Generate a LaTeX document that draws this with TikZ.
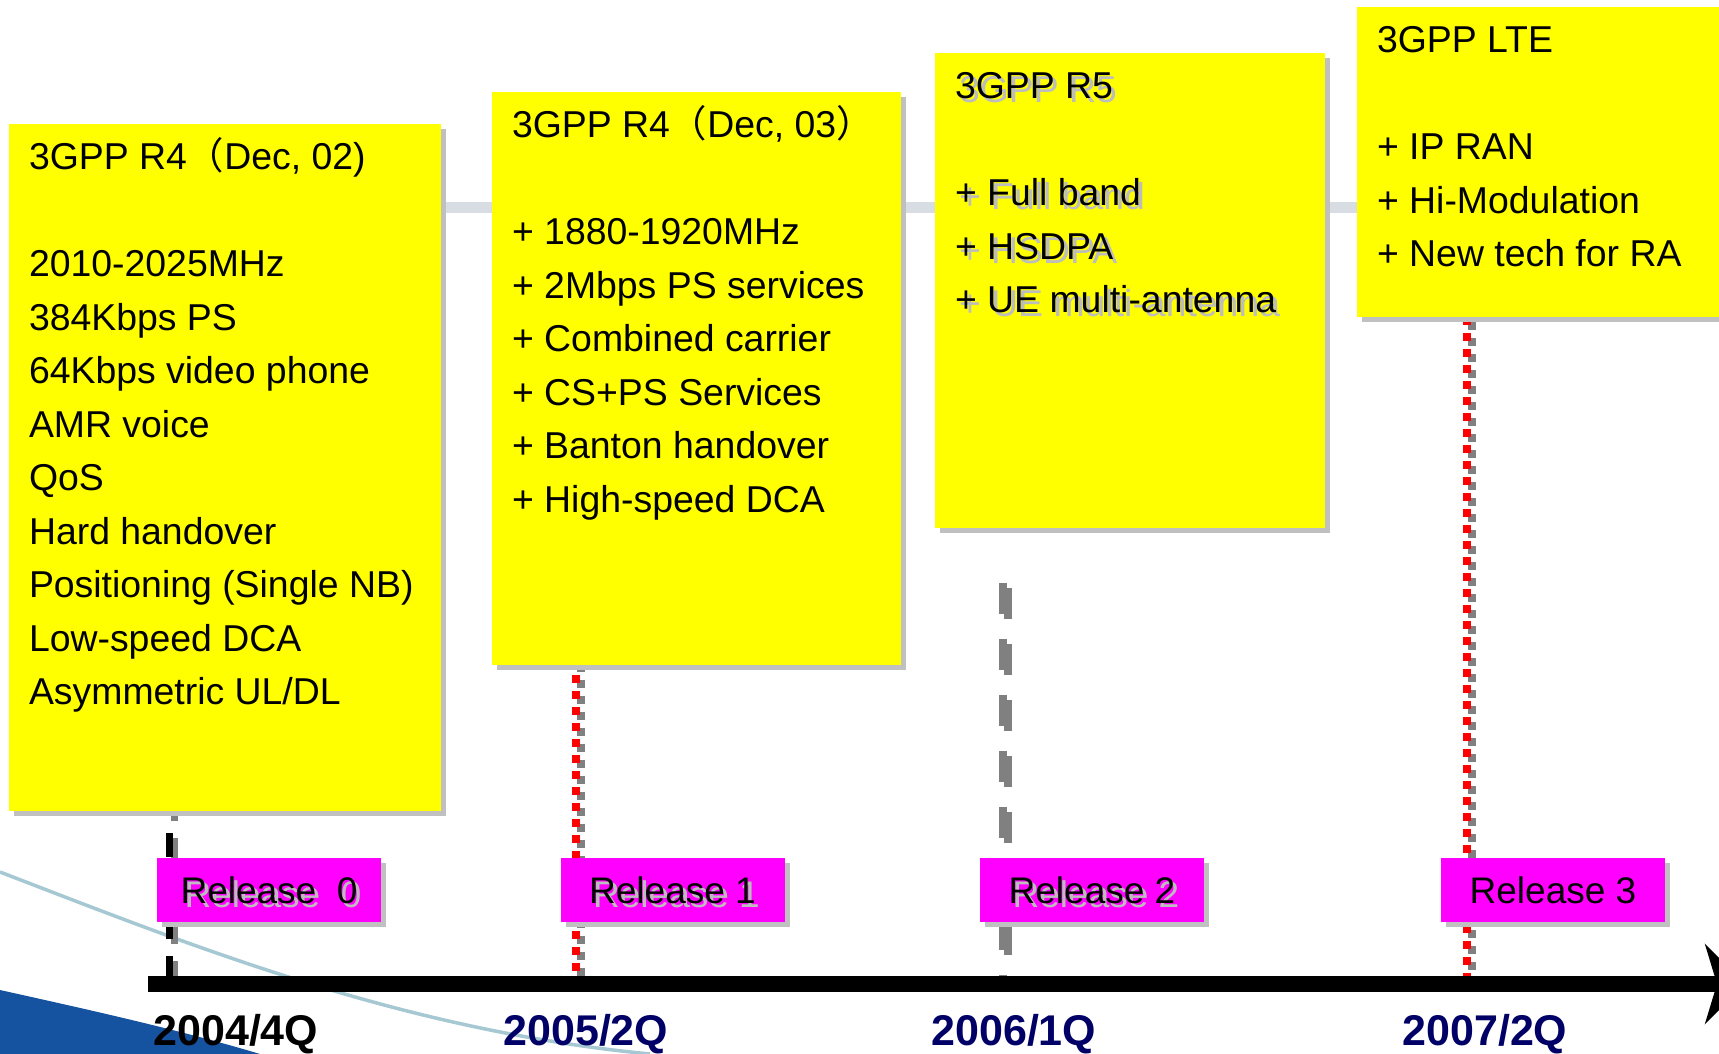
\documentclass[tikz,border=0pt]{standalone}
\usepackage{fontspec}
\setmainfont{Liberation Sans}
\newfontfamily\cjk{Noto Sans CJK SC}
\usetikzlibrary{shadows,backgrounds,arrows.meta}
\definecolor{notegold}{HTML}{FFFF00}
\definecolor{relpink}{HTML}{FF00FF}
\definecolor{boxshade}{HTML}{C0C0C0}
\definecolor{txtshade}{HTML}{BDBDBD}
\definecolor{dashgrey}{HTML}{808080}
\definecolor{datenavy}{HTML}{000066}
\definecolor{bandgrey}{HTML}{D7DDE3}
\definecolor{swooshblue}{HTML}{1553A1}
\definecolor{arcblue}{HTML}{A5C8D3}
\newcommand{\shtext}[1]{\makebox[0pt][l]{\hspace{2pt}\raisebox{-2pt}[0pt][0pt]{\textcolor{txtshade}{#1}}}#1}
\begin{document}
\begin{tikzpicture}[x=0.5pt, y=-0.5pt,
    notebox/.style={rectangle, fill=notegold, inner sep=0pt,
        drop shadow={shadow xshift=2.5pt, shadow yshift=-2.5pt, fill=boxshade, opacity=1}},
    notetext/.style={anchor=base west, inner sep=0pt, font=\fontsize{18.7pt}{26.75pt}\selectfont},
    relbox/.style={rectangle, fill=relpink, minimum width=112pt, minimum height=32pt, inner sep=0pt,
        font=\fontsize{18.5pt}{22pt}\selectfont,
        drop shadow={shadow xshift=2.5pt, shadow yshift=-2.5pt, fill=boxshade, opacity=1}},
    datelabel/.style={anchor=base west, inner sep=0pt, font=\bfseries\fontsize{21.5pt}{24pt}\selectfont},
    band/.style={draw=bandgrey, line width=5.5pt},
    rel0dash/.style={line width=3.5pt, dash pattern=on 12pt off 8.5pt},
    sqdots/.style={line width=4pt, dash pattern=on 4pt off 4pt},
    greydash/.style={draw=dashgrey, line width=4pt, dash pattern=on 15.5pt off 12.5pt},
    timeline/.style={line width=7.75pt, -{Stealth[length=20pt, width=40pt, inset=6pt]}}]
    \useasboundingbox (0,0) rectangle (1719,1054);
    \clip (0,0) rectangle (1719,1054);

    % Release notes
    \node[notebox, minimum width=216pt, minimum height=343.5pt] (r4a) at (225,467.5) {};
    \node[notebox, minimum width=204.5pt, minimum height=286.5pt] (r4b) at (696.5,378.5) {};
    \node[notebox, minimum width=195pt, minimum height=237.5pt] (r5) at (1130,290.5) {};
    \node[notebox, minimum width=185pt, minimum height=155pt] (lte) at (1542,162) {};

    \node[notetext] (r4atext) at ([shift={(20,46)}]r4a.north west) {\parbox[t]{260pt}{\raggedright
        3GPP R4{\cjk （}Dec, 02)\\[26.75pt]
        2010-2025MHz\\
        384Kbps PS\\
        64Kbps video phone\\
        AMR voice\\
        QoS\\
        Hard handover\\
        Positioning (Single NB)\\
        Low-speed DCA\\
        Asymmetric UL/DL}};
    \node[notetext] (r4btext) at ([shift={(20,46)}]r4b.north west) {\parbox[t]{260pt}{\raggedright
        3GPP R4{\cjk （}Dec, 03{\cjk ）}\\[26.75pt]
        + 1880-1920MHz\\
        + 2Mbps PS services\\
        + Combined carrier\\
        + CS+PS Services\\
        + Banton handover\\
        + High-speed DCA}};
    \node[notetext] (r5text) at ([shift={(20,46)}]r5.north west) {\parbox[t]{260pt}{\raggedright
        \shtext{3GPP R5}\\[26.75pt]
        \shtext{+ Full band}\\
        \shtext{+ HSDPA}\\
        \shtext{+ UE multi-antenna}}};
    \node[notetext] (ltetext) at ([shift={(20,46)}]lte.north west) {\parbox[t]{260pt}{\raggedright
        3GPP LTE\\[26.75pt]
        + IP RAN\\
        + Hi-Modulation\\
        + New tech for RA}};

    % Releases
    \node[relbox] (rel0) at (269,890) {\shtext{Release~~0}};
    \node[relbox] (rel1) at (672.5,890) {\shtext{Release 1}};
    \node[relbox] (rel2) at (1092,890) {\shtext{Release 2}};
    \node[relbox] (rel3) at (1553,890) {Release 3};

    % Time axis
    \coordinate (tstart) at (148,984);
    \coordinate (tend) at (1745,984);
    \coordinate (tick0) at (169,984);
    \coordinate (tick1) at (576,984);
    \coordinate (tick2) at (1003,984);
    \coordinate (tick3) at (1467,984);
    \coordinate (top0) at (tick0 |- r4a.south);
    \coordinate (top1) at (tick1 |- r4b.south);
    \coordinate (top2) at (1003,583);
    \coordinate (top3) at (tick3 |- lte.south);
    \coordinate (bandy) at (0,207.5);

    \begin{scope}[on background layer]
        % Slide background
        \fill[swooshblue] (0,990) .. controls (90,1010) and (180,1030) .. (260,1054) -- (0,1054) -- cycle;
        \draw[arcblue, line width=1.75pt] (0,872) .. controls (190,945) and (400,1030) .. (650,1054);
        \draw[band] (r4a.east |- bandy) -- (lte.west |- bandy);

        % Release marks
        \draw[rel0dash, dashgrey, dash phase=9.5pt] ([shift={(5,5)}]top0) -- ([shift={(5,5)}]tick0);
        \draw[rel0dash, black, dash phase=9.5pt] (top0) -- (tick0);
        \draw[sqdots, dashgrey, dash phase=3pt] ([shift={(5,5)}]top1) -- ([shift={(5,5)}]tick1);
        \draw[sqdots, red, dash phase=3pt] (top1) -- (tick1);
        \draw[greydash] ([shift={(5,5)}]top2) -- ([shift={(5,5)}]tick2);
        \draw[greydash] (top2) -- (tick2);
        \draw[sqdots, dashgrey] ([shift={(5,5)}]top3) -- ([shift={(5,5)}]tick3);
        \draw[sqdots, red] (top3) -- (tick3);
    \end{scope}

    \draw[timeline] (tstart) -- (tend);

    % Dates
    \node[datelabel] (d0) at (153,1045) {2004/4Q};
    \node[datelabel, text=datenavy] (d1) at (503,1045) {2005/2Q};
    \node[datelabel, text=datenavy] (d2) at (931,1045) {2006/1Q};
    \node[datelabel, text=datenavy] (d3) at (1402,1045) {2007/2Q};
\end{tikzpicture}
\end{document}
